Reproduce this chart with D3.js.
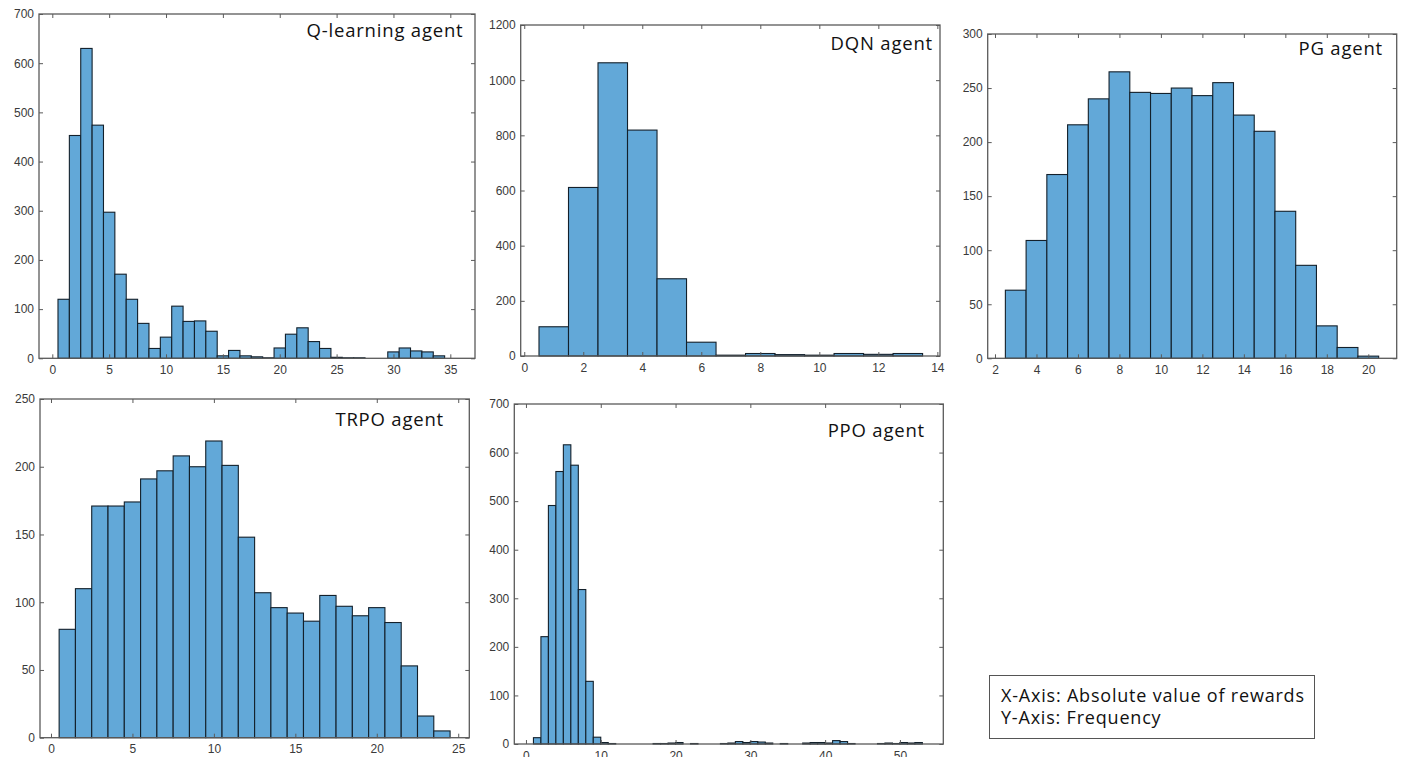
<!DOCTYPE html>
<html><head><meta charset="utf-8">
<script src="https://cdn.jsdelivr.net/npm/d3@7"></script>
<style>body{margin:0;background:#fff}svg{display:block}</style>
</head><body>
<svg id="chart" width="1406" height="757"></svg>
<script>
// ---------- DATA ----------
const panelNames = ["Q-learning agent", "DQN agent", "PG agent", "TRPO agent", "PPO agent"];

// Q-learning: bins of width 1 starting at 0.5
const qBinStart = 0.5;
const qCounts = [120, 453, 630, 474, 297, 171, 120, 71, 20, 43, 106, 75, 76, 55, 5, 16, 5, 3, 1, 21, 49, 62, 34, 20, 2, 1, 1, 0, 0, 13, 21, 15, 13, 5];
const qXTicks = [0, 5, 10, 15, 20, 25, 30, 35];
const qYTicks = [0, 100, 200, 300, 400, 500, 600, 700];

// DQN: bins of width 1 starting at 0.5
const dqnBinStart = 0.5;
const dqnCounts = [106, 611, 1063, 819, 280, 50, 3, 9, 5, 3, 9, 6, 9];
const dqnXTicks = [0, 2, 4, 6, 8, 10, 12, 14];
const dqnYTicks = [0, 200, 400, 600, 800, 1000, 1200];

// PG: bins of width 1 starting at 2.5
const pgBinStart = 2.5;
const pgCounts = [63, 109, 170, 216, 240, 265, 246, 245, 250, 243, 255, 225, 210, 136, 86, 30, 10, 2];
const pgXTicks = [2, 4, 6, 8, 10, 12, 14, 16, 18, 20];
const pgYTicks = [0, 50, 100, 150, 200, 250, 300];

// TRPO: bins of width 1 starting at 0.5
const trpoBinStart = 0.5;
const trpoCounts = [80, 110, 171, 171, 174, 191, 197, 208, 200, 219, 201, 148, 107, 96, 92, 86, 105, 97, 90, 96, 85, 53, 16, 5];
const trpoXTicks = [0, 5, 10, 15, 20, 25];
const trpoYTicks = [0, 50, 100, 150, 200, 250];

// PPO: bins of width 1 starting at 1
const ppoBinStart = 1;
const ppoCounts = [13, 221, 491, 561, 616, 574, 318, 129, 14, 3, 1, 0, 0, 0, 0, 0, 1, 1, 2, 3, 0, 1, 0, 0, 0, 1, 2, 5, 3, 5, 4, 2, 0, 1, 0, 0, 2, 3, 3, 2, 7, 5, 1, 0, 0, 0, 1, 2, 1, 3, 2, 3];
const ppoXTicks = [0, 10, 20, 30, 40, 50];
const ppoYTicks = [0, 100, 200, 300, 400, 500, 600, 700];

const legendLines = ["X-Axis: Absolute value of rewards", "Y-Axis: Frequency"];

// ---------- LAYOUT ----------
const panels = [
  {name: panelNames[0], start: qBinStart, counts: qCounts, xt: qXTicks, yt: qYTicks,
   box: {l: 39, t: 14, r: 475, b: 358.3}, xDom: [-1.17, 37.17], title: {x: 463.5, y: 37}},
  {name: panelNames[1], start: dqnBinStart, counts: dqnCounts, xt: dqnXTicks, yt: dqnYTicks,
   box: {l: 520.7, t: 25, r: 940, b: 356}, xDom: [-0.12, 14.09], title: {x: 933, y: 50}},
  {name: panelNames[2], start: pgBinStart, counts: pgCounts, xt: pgXTicks, yt: pgYTicks,
   box: {l: 987.7, t: 34, r: 1396.7, b: 358.3}, xDom: [1.648, 21.37], title: {x: 1383, y: 55}},
  {name: panelNames[3], start: trpoBinStart, counts: trpoCounts, xt: trpoXTicks, yt: trpoYTicks,
   box: {l: 40, t: 399, r: 469.3, b: 737.7}, xDom: [-0.675, 25.68], title: {x: 444, y: 425.7}},
  {name: panelNames[4], start: ppoBinStart, counts: ppoCounts, xt: ppoXTicks, yt: ppoYTicks,
   box: {l: 514.3, t: 404, r: 943.3, b: 744}, xDom: [-1.56, 55.8], title: {x: 925, y: 436.7}}
];

const svg = d3.select("#chart");
const axisColor = "#5a5a5a";
const barFill = "#62a8d8";
const barStroke = "#13202b";

panels.forEach(p => {
  const g = svg.append("g");
  const x = d3.scaleLinear().domain(p.xDom).range([p.box.l, p.box.r]);
  const yMax = d3.max(p.yt);
  const y = d3.scaleLinear().domain([0, yMax]).range([p.box.b, p.box.t]);

  const bins = p.counts.map((c, i) => ({x0: p.start + i, x1: p.start + i + 1, c}));

  g.selectAll("rect.bar").data(bins.filter(d => d.c > 0)).enter().append("rect")
    .attr("class", "bar")
    .attr("x", d => x(d.x0))
    .attr("width", d => x(d.x1) - x(d.x0))
    .attr("y", d => y(d.c))
    .attr("height", d => y(0) - y(d.c))
    .attr("fill", barFill)
    .attr("stroke", barStroke)
    .attr("stroke-width", 1.1);

  const fontAx = "Liberation Sans, Arial, sans-serif";
  // bottom axis
  const gb = g.append("g").attr("transform", `translate(0,${p.box.b})`)
    .call(d3.axisBottom(x).tickValues(p.xt).tickFormat(d3.format("d")).tickSizeInner(-4).tickSizeOuter(0).tickPadding(7));
  // left axis
  const gl = g.append("g").attr("transform", `translate(${p.box.l},0)`)
    .call(d3.axisLeft(y).tickValues(p.yt).tickFormat(d3.format("d")).tickSizeInner(-4).tickSizeOuter(0).tickPadding(5));
  // mirrored ticks
  const gt = g.append("g").attr("transform", `translate(0,${p.box.t})`)
    .call(d3.axisTop(x).tickValues(p.xt).tickFormat("").tickSizeInner(-4).tickSizeOuter(0));
  const gr = g.append("g").attr("transform", `translate(${p.box.r},0)`)
    .call(d3.axisRight(y).tickValues(p.yt).tickFormat("").tickSizeInner(-4).tickSizeOuter(0));
  [gb, gl, gt, gr].forEach(a => {
    a.select(".domain").remove();
    a.selectAll(".tick line").attr("stroke", axisColor).attr("stroke-width", 1);
    a.selectAll(".tick text").attr("fill", "#3a3a3a").attr("font-family", fontAx).attr("font-size", 12);
  });

  g.append("rect")
    .attr("x", p.box.l).attr("y", p.box.t)
    .attr("width", p.box.r - p.box.l).attr("height", p.box.b - p.box.t)
    .attr("fill", "none").attr("stroke", axisColor).attr("stroke-width", 1.3);

  g.append("text")
    .attr("x", p.title.x).attr("y", p.title.y)
    .attr("text-anchor", "end")
    .attr("font-family", "Open Sans, Noto Sans, sans-serif")
    .attr("font-size", 18.5)
    .attr("letter-spacing", 0.8)
    .attr("fill", "#111")
    .text(p.name);
});

// legend box
const lg = svg.append("g");
lg.append("rect").attr("x", 989.5).attr("y", 675.5).attr("width", 325).attr("height", 63)
  .attr("fill", "#fff").attr("stroke", "#555").attr("stroke-width", 1);
lg.selectAll("text").data(legendLines).enter().append("text")
  .attr("x", 1001).attr("y", (d, i) => 701.5 + i * 22)
  .attr("font-family", "Open Sans, Noto Sans, sans-serif")
  .attr("font-size", 18)
  .attr("letter-spacing", 0.8)
  .attr("fill", "#111")
  .text(d => d);
</script>
</body></html>
